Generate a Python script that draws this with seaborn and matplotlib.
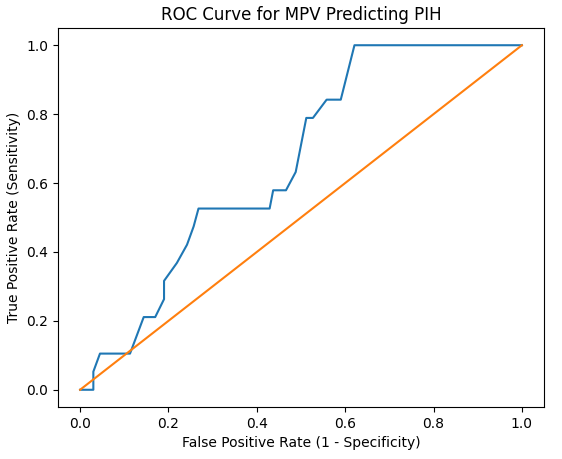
import matplotlib
matplotlib.use("Agg")
import matplotlib.pyplot as plt
import seaborn as sns
import pandas as pd

fpr = [0.0, 0.030, 0.030, 0.045, 0.113, 0.144, 0.170, 0.190, 0.190, 0.219, 0.242,
       0.257, 0.268, 0.429, 0.437, 0.466, 0.488, 0.512, 0.527, 0.558, 0.590, 0.621, 1.0]
tpr = [0.0, 0.0, 0.0526, 0.105, 0.105, 0.211, 0.211, 0.263, 0.316, 0.368, 0.421,
       0.474, 0.526, 0.526, 0.579, 0.579, 0.632, 0.789, 0.789, 0.842, 0.842, 1.0, 1.0]
diag = [0.0, 1.0]

roc = pd.DataFrame({"fpr": fpr, "tpr": tpr, "step": range(len(fpr))})
ref = pd.DataFrame({"x": diag, "y": diag})

fig = plt.figure(figsize=(5.62, 4.59), dpi=100)
ax = fig.add_axes([58 / 562, 1 - 407 / 459, (544 - 58) / 562, (407 - 28) / 459])
sns.lineplot(data=roc, x="fpr", y="tpr", sort=False, estimator=None, color="#1f77b4", linewidth=1.5, ax=ax)
sns.lineplot(data=ref, x="x", y="y", sort=False, estimator=None, color="#ff7f0e", linewidth=1.5, ax=ax)
ax.set_xlabel("False Positive Rate (1 - Specificity)", fontsize=10)
ax.set_ylabel("True Positive Rate (Sensitivity)", fontsize=10)
ax.set_title("ROC Curve for MPV Predicting PIH", fontsize=12)
ax.set_xticks([0.0, 0.2, 0.4, 0.6, 0.8, 1.0])
ax.set_yticks([0.0, 0.2, 0.4, 0.6, 0.8, 1.0])
fig.savefig("out.png", dpi=100)
